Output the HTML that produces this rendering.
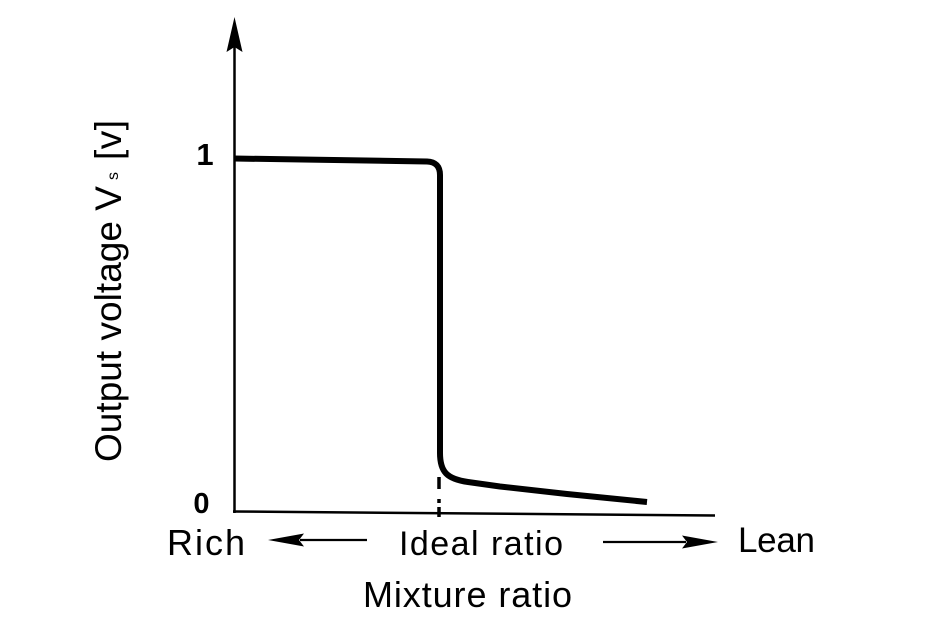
<!DOCTYPE html>
<html>
<head>
<meta charset="utf-8">
<style>
html,body{margin:0;padding:0;background:#fff;}
svg{display:block;}
text{font-family:"Liberation Sans",Arial,sans-serif;fill:#000;}
</style>
</head>
<body>
<svg width="926" height="641" viewBox="0 0 926 641" xmlns="http://www.w3.org/2000/svg">
<rect x="0" y="0" width="926" height="641" fill="#fff"/>

<!-- Y axis -->
<line x1="234.5" y1="44" x2="234.5" y2="513" stroke="#000" stroke-width="2.5"/>
<polygon points="234.5,17 242.5,52 234.5,47 226.5,52" fill="#000"/>

<!-- X axis -->
<line x1="233" y1="511.5" x2="715" y2="515.5" stroke="#000" stroke-width="2.5"/>

<!-- Curve -->
<path d="M234,158.5 L427,161.5 Q440,162 440,175 L440,453 C440,472 447,479 468,482 L500,486.5 L567,494 L647,502"
      fill="none" stroke="#000" stroke-width="6" stroke-linejoin="round"/>

<!-- Dashed ideal ratio line -->
<line x1="439" y1="477" x2="439" y2="489" stroke="#000" stroke-width="3.5"/>
<line x1="439" y1="499" x2="439" y2="503" stroke="#000" stroke-width="3.5"/>
<line x1="439" y1="507" x2="439" y2="517" stroke="#000" stroke-width="3.5"/>

<!-- Tick labels -->
<text x="205" y="165" font-size="31" font-weight="bold" text-anchor="middle">1</text>
<text x="201.5" y="513" font-size="29" font-weight="bold" text-anchor="middle">0</text>

<!-- Y label -->
<g transform="translate(121,462) rotate(-90)">
  <text x="0" y="0" font-size="37" textLength="276" lengthAdjust="spacing">Output voltage V</text>
  <text x="282" y="-3" font-size="16">s</text>
  <text x="302" y="0" font-size="37" textLength="40" lengthAdjust="spacing">[v]</text>
</g>

<!-- Bottom labels -->
<text x="167" y="555" font-size="36" textLength="78" lengthAdjust="spacing">Rich</text>
<text x="399" y="555" font-size="34" textLength="164" lengthAdjust="spacing">Ideal ratio</text>
<text x="738" y="552" font-size="35" textLength="77" lengthAdjust="spacing">Lean</text>
<text x="363" y="607" font-size="36" textLength="209" lengthAdjust="spacing">Mixture ratio</text>

<!-- Left arrow -->
<line x1="300" y1="540" x2="367" y2="540" stroke="#000" stroke-width="2.2"/>
<polygon points="268,540 304,533.5 299,540 304,546.5" fill="#000"/>

<!-- Right arrow -->
<line x1="603" y1="542" x2="686" y2="542" stroke="#000" stroke-width="2.2"/>
<polygon points="718,542 682,535.5 687,542 682,548.5" fill="#000"/>
</svg>
</body>
</html>
